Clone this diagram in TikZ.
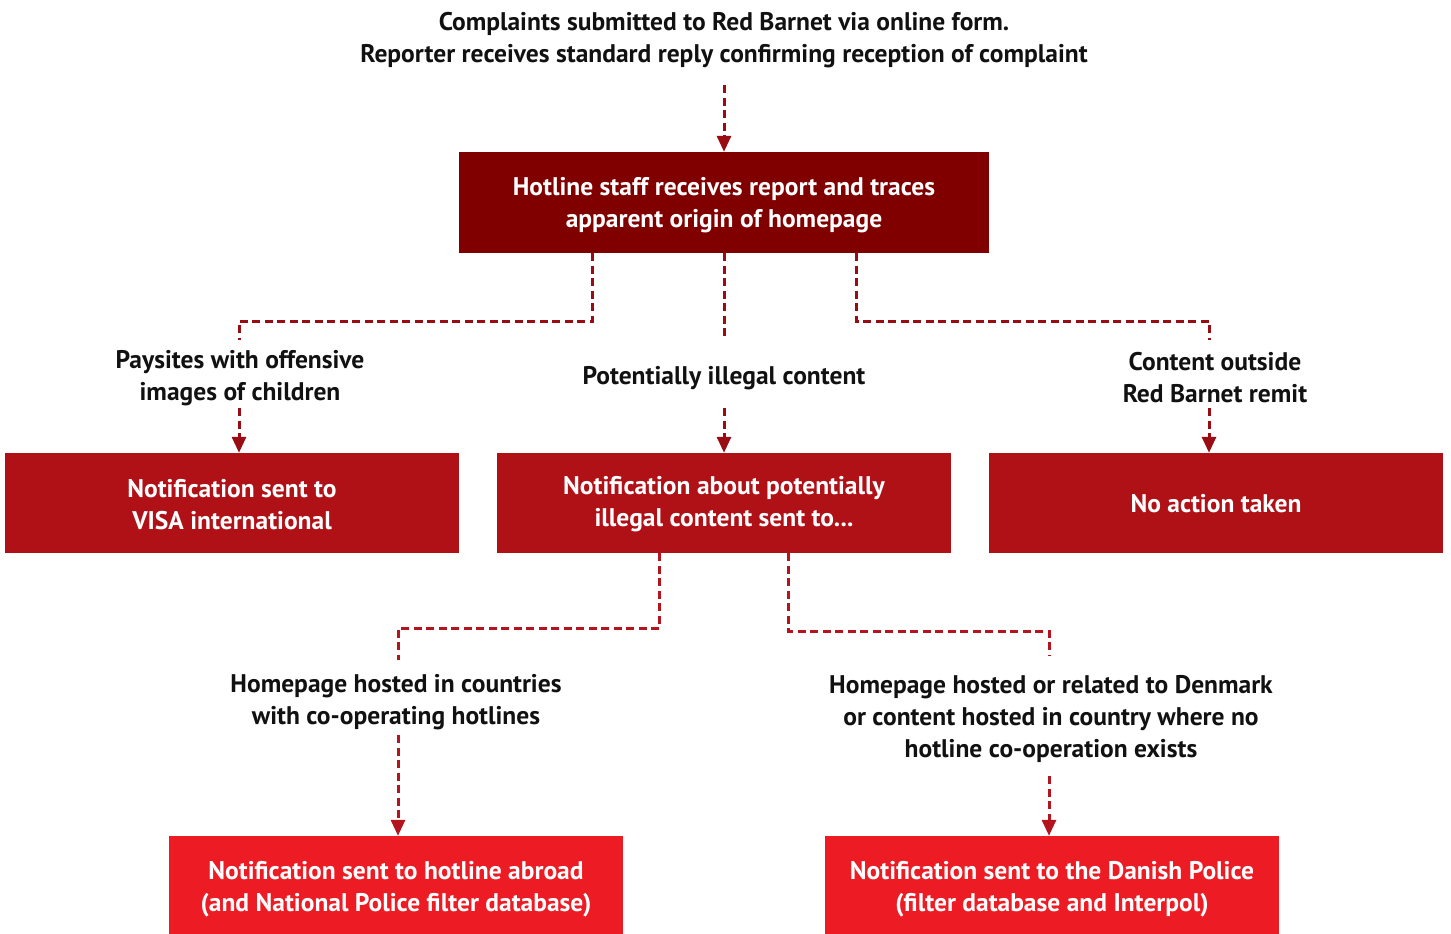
\documentclass[tikz,border=0pt]{standalone}
\usepackage{fontspec}
\setmainfont{PT Sans}
\usetikzlibrary{arrows.meta}
\definecolor{topred}{HTML}{800000}
\definecolor{midred}{HTML}{B01117}
\definecolor{botred}{HTML}{ED1C24}
\definecolor{lineA}{HTML}{9A0C14}
\definecolor{lineB}{HTML}{B3141D}
\definecolor{ink}{HTML}{111111}
\begin{document}
\begin{tikzpicture}[x=1pt,y=-1pt,
  txt/.style={font=\fontsize{25.5}{32}\selectfont\bfseries, align=center, inner sep=0pt},
  box/.style={rectangle, minimum width=454pt, minimum height=100pt, inner sep=0pt},
  boxtxt/.style={txt, text=white},
  lbl/.style={txt, text=ink},
  conn/.style={draw=#1, line width=3pt, dash pattern=on 8pt off 4.5pt},
  arr/.style={conn=#1, -{Triangle[width=14pt,length=16pt,fill=#1]}},
]
\useasboundingbox (0,0) rectangle (1451,934);

% boxes
\node[box, fill=topred, minimum width=530pt, minimum height=101pt] (hot) at (724,202.5) {};
\node[box, fill=midred] (m1) at (232,503) {};
\node[box, fill=midred] (m2) at (724,503) {};
\node[box, fill=midred] (m3) at (1216,503) {};
\node[box, fill=botred, minimum height=98pt] (b1) at (396,885) {};
\node[box, fill=botred, minimum height=98pt] (b2) at (1052,885) {};

% box texts
\node[boxtxt] (hot-t) at ([yshift=-3pt]hot.center) {Hotline staff receives report and traces\\apparent origin of homepage};
\node[boxtxt] (m1-t) at ([yshift=-1.5pt]m1.center) {Notification sent to\\VISA international};
\node[boxtxt] (m2-t) at ([yshift=-1.5pt]m2.center) {Notification about potentially\\illegal content sent to...};
\node[boxtxt] (m3-t) at ([yshift=-1pt]m3.center) {No action taken};
\node[boxtxt] (b1-t) at ([yshift=-4pt]b1.center) {Notification sent to hotline abroad\\(and National Police filter database)};
\node[boxtxt] (b2-t) at ([yshift=-4pt]b2.center) {Notification sent to the Danish Police\\(filter database and Interpol)};

% labels
\node[lbl] (title) at (724,40) {Complaints submitted to Red Barnet via online form.\\Reporter receives standard reply confirming reception of complaint};
\node[lbl] (l1) at (240,378) {Paysites with offensive\\images of children};
\node[lbl] (l2) at (724,378) {Potentially illegal content};
\node[lbl] (l3) at (1215,378) {Content outside\\Red Barnet remit};
\node[lbl] (l4) at (396,702) {Homepage hosted in countries\\with co-operating hotlines};
\node[lbl] (l5) at (1051,719) {Homepage hosted or related to Denmark\\or content hosted in country where no\\hotline co-operation exists};

% coordinates for free ends
\coordinate (a0) at (724,85);
\coordinate (c1) at (239,340);
\coordinate (c2) at (724,340);
\coordinate (c3) at (1209,340);
\coordinate (a1) at (239,408);
\coordinate (a2) at (724,408);
\coordinate (a3) at (1209,408);
\coordinate (c4) at (398,660);
\coordinate (c5) at (1049,655);
\coordinate (a4) at (398,735);
\coordinate (a5) at (1049,776);

% connectors
\draw[arr=lineA] (a0) -- (hot.north);
\draw[conn=lineA] ([xshift=-132pt]hot.south) -- ++(0,68) -| (c1);
\draw[conn=lineA] (hot.south) -- (c2);
\draw[conn=lineA] ([xshift=132pt]hot.south) -- ++(0,68) -| (c3);
\draw[arr=lineA] (a1) -- (a1 |- m1.north);
\draw[arr=lineA] (a2) -- (a2 |- m2.north);
\draw[arr=lineA] (a3) -- (a3 |- m3.north);

\draw[conn=lineB] ([xshift=-65pt]m2.south) -- ++(0,75) -| (c4);
\draw[conn=lineB] ([xshift=64pt]m2.south) -- ++(0,78) -| (c5);
\draw[arr=lineB] (a4) -- (a4 |- b1.north);
\draw[arr=lineB] (a5) -- (a5 |- b2.north);
\end{tikzpicture}
\end{document}
